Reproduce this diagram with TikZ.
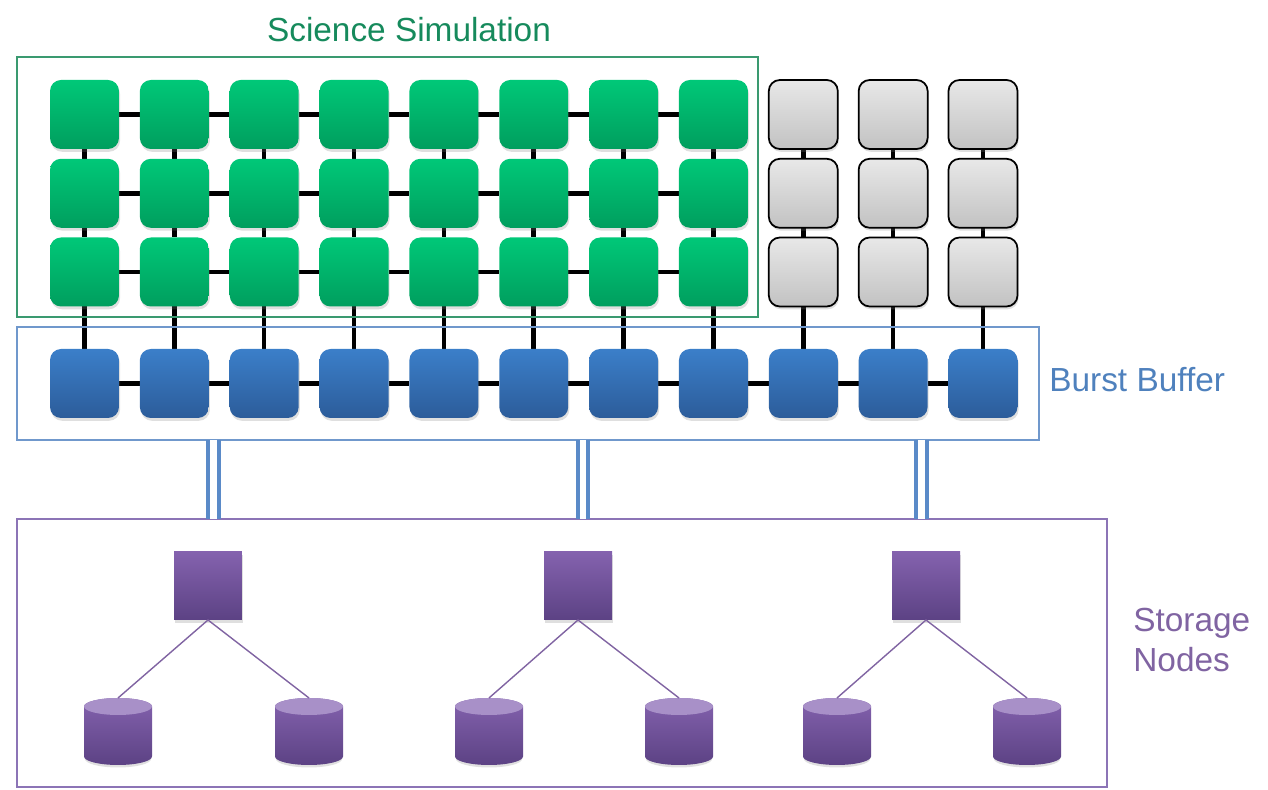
\documentclass[tikz,border=0pt]{standalone}
\usepackage{fontspec}
\setmainfont{Liberation Sans}
\usetikzlibrary{shadows,backgrounds}
\definecolor{gtop}{HTML}{00C878}
\definecolor{gbot}{HTML}{009E5E}
\definecolor{gframe}{HTML}{3A9A70}
\definecolor{gtext}{HTML}{168A5C}
\definecolor{btop}{HTML}{3B7FC9}
\definecolor{bbot}{HTML}{2C5C9A}
\definecolor{bframe}{HTML}{7098CC}
\definecolor{bdbl}{HTML}{5A8AC8}
\definecolor{btext}{HTML}{4F81BD}
\definecolor{ptop}{HTML}{8462AE}
\definecolor{pbot}{HTML}{5C4284}
\definecolor{pframe}{HTML}{8C74B6}
\definecolor{ptext}{HTML}{8064A2}
\definecolor{pcap}{HTML}{A890C8}
\definecolor{graytop}{HTML}{E8E8E8}
\definecolor{graybot}{HTML}{C2C2C2}
\begin{document}
\begin{tikzpicture}[x=0.02cm,y=0.02cm,
  shad/.style={drop shadow={opacity=0.25,shadow xshift=0.6pt,shadow yshift=-1.6pt}},
  cnode/.style={rectangle,rounded corners=0.22cm,minimum width=1.38cm,minimum height=1.38cm,inner sep=0pt,outer sep=0pt,shad},
  gnode/.style={cnode,top color=gtop,bottom color=gbot},
  graynode/.style={cnode,top color=graytop,bottom color=graybot,draw=black,line width=1pt},
  bnode/.style={cnode,top color=btop,bottom color=bbot},
  snode/.style={rectangle,minimum width=1.36cm,minimum height=1.36cm,inner sep=0pt,outer sep=0pt,top color=ptop,bottom color=pbot,shad},
  frame/.style={rectangle,inner sep=0pt,outer sep=0pt,line width=1pt,fill=none},
  link/.style={black,line width=2.6pt},
  dbl/.style={draw=bdbl,line width=2.3pt,double=white,double distance=3.6pt},
  plink/.style={ptext,line width=0.8pt},
  lbl/.style={inner sep=0pt,font=\fontsize{19}{23}\selectfont}]
\useasboundingbox (0,0) rectangle (1268,790);
% frames
\node[frame,draw=gframe,minimum width=14.82cm,minimum height=5.2cm] (simbox) at (387.5,603) {};
\node[frame,draw=bframe,minimum width=20.44cm,minimum height=2.26cm] (bbox) at (528,406.5) {};
\node[frame,draw=pframe,minimum width=21.8cm,minimum height=5.36cm] (sbox) at (562,137) {};
% labels
\node[lbl,text=gtext,anchor=base] (title) at (409,748) {Science Simulation};
\node[lbl,text=btext,anchor=base west] (bblabel) at (1049,398) {Burst Buffer};
\node[lbl,text=ptext,anchor=base west] (snlabel1) at (1133,158) {Storage};
\node[lbl,text=ptext,anchor=base west] (snlabel2) at (1133,118) {Nodes};
% compute nodes
\foreach \c in {0,...,10}{
  \pgfmathsetmacro\cx{84.5+89.85*\c}
  \ifnum\c<8
    \node[gnode] (g-1-\c) at (\cx,675.5) {};
    \node[gnode] (g-2-\c) at (\cx,596.7) {};
    \node[gnode] (g-3-\c) at (\cx,518) {};
  \else
    \node[graynode] (g-1-\c) at (\cx,675.5) {};
    \node[graynode] (g-2-\c) at (\cx,596.7) {};
    \node[graynode] (g-3-\c) at (\cx,518) {};
  \fi
  \node[bnode] (b-\c) at (\cx,406.5) {};
}
% connectors
\begin{scope}[on background layer]
  \foreach \c [evaluate=\c as \n using int(\c+1)] in {0,...,6}{
    \foreach \r in {1,2,3}{ \draw[link] (g-\r-\c) -- (g-\r-\n); }
  }
  \foreach \c in {0,...,10}{
    \draw[link] (g-1-\c) -- (g-2-\c);
    \draw[link] (g-2-\c) -- (g-3-\c);
    \draw[link] (g-3-\c) -- (b-\c);
  }
  \foreach \c [evaluate=\c as \n using int(\c+1)] in {0,...,9}{
    \draw[link] (b-\c) -- (b-\n);
  }
\end{scope}
% burst buffer to storage links
\foreach \x in {213.5,583,921.5}{
  \draw[dbl] (\x,0 |- bbox.south) -- (\x,0 |- sbox.north);
}
% storage nodes
\foreach \j/\sx/\la/\lb in {0/208/118/309,1/578/489/679,2/926/837/1027}{
  \node[snode] (s-\j) at (\sx,204) {};
  \foreach \k/\cx in {a/\la,b/\lb}{
    \coordinate (cyl-\j\k) at (\cx,92);
    \fill[black,opacity=0.12] (\cx-33,83.5) -- (\cx-33,31) arc (180:360:33 and 8.5) -- (\cx+33,83.5) -- cycle;
    \shade[top color=ptop,bottom color=pbot] (\cx-34,83.5) -- (\cx-34,33.5) arc (180:360:34 and 8.5) -- (\cx+34,83.5) arc (0:180:34 and 8.5) -- cycle;
    \fill[pcap] (\cx,83.5) ellipse (34 and 8.5);
    \draw[plink] (s-\j.south) -- (cyl-\j\k);
  }
}
\end{tikzpicture}
\end{document}
